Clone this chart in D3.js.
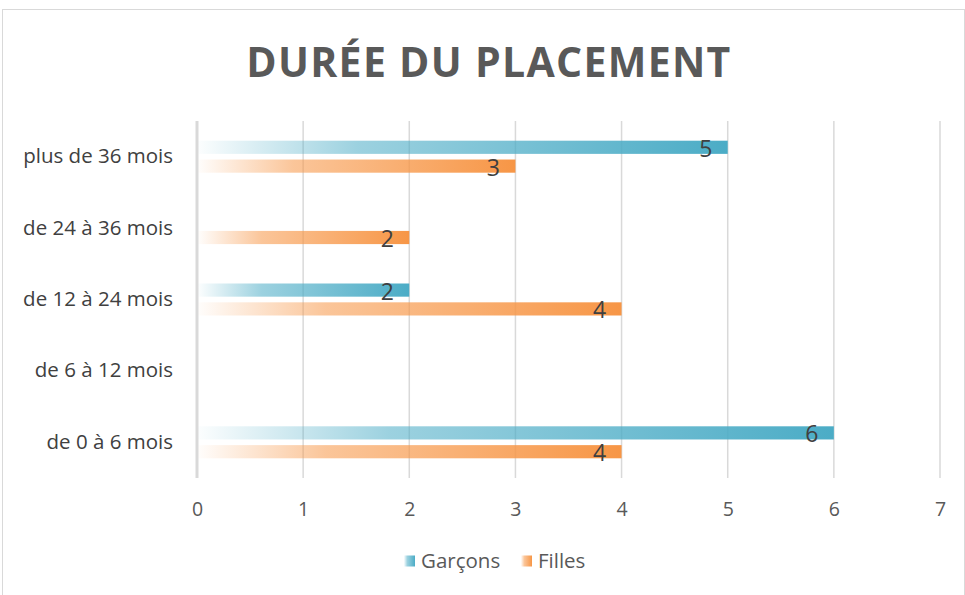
<!DOCTYPE html>
<html>
<head>
<meta charset="utf-8">
<script src="https://cdn.jsdelivr.net/npm/d3@7"></script>
<style>
  body { margin: 0; background: #fff; }
  svg text { font-family: "Open Sans", "Noto Sans", sans-serif; }
</style>
</head>
<body>
<div id="vue"></div>
<script>
// données du graphique
var categories = ["plus de 36 mois", "de 24 à 36 mois", "de 12 à 24 mois", "de 6 à 12 mois", "de 0 à 6 mois"];
var series = ["Garçons", "Filles"];
var garcons = [5, null, 2, null, 6];
var filles = [3, 2, 4, null, 4];
var ticks = [0, 1, 2, 3, 4, 5, 6, 7];
var colors = ["#4bacc6", "#f79646"];

var width = 965, height = 595;

var svg = d3.select("#vue").append("svg")
  .attr("width", width)
  .attr("height", height);

// cadre extérieur
svg.append("rect")
  .attr("x", 2.5).attr("y", 9.5)
  .attr("width", 962).attr("height", 590)
  .attr("fill", "#fff")
  .attr("stroke", "#d9d9d9");

// dégradés (blanc transparent -> couleur pleine)
var defs = svg.append("defs");
colors.forEach(function (c, i) {
  var g = defs.append("linearGradient")
    .attr("id", "grad" + i)
    .attr("x1", 0).attr("x2", 1).attr("y1", 0).attr("y2", 0);
  g.append("stop").attr("offset", 0).attr("stop-color", c).attr("stop-opacity", 0.02);
  g.append("stop").attr("offset", 0.3).attr("stop-color", c).attr("stop-opacity", 0.55);
  g.append("stop").attr("offset", 1).attr("stop-color", c).attr("stop-opacity", 1);
});

var x = d3.scaleLinear().domain([0, 7]).range([197, 940]);
var y = d3.scaleBand().domain(categories).range([121, 478]);
var ySub = d3.scaleBand().domain(series).range([-16, 16]).paddingInner(0.3);

// titre
svg.append("text")
  .attr("x", 489).attr("y", 77)
  .attr("text-anchor", "middle")
  .attr("font-size", 41)
  .attr("font-weight", "bold")
  .attr("letter-spacing", 1.3)
  .attr("fill", "#595959")
  .text("DURÉE DU PLACEMENT");

// grille
svg.append("g").selectAll("line")
  .data(ticks.slice(1))
  .enter().append("line")
  .attr("x1", function (d) { return x(d); })
  .attr("x2", function (d) { return x(d); })
  .attr("y1", 121).attr("y2", 478)
  .attr("stroke", "#d9d9d9")
  .attr("stroke-width", 1.5);

// axe vertical
svg.append("line")
  .attr("x1", x(0)).attr("x2", x(0))
  .attr("y1", 121).attr("y2", 478)
  .attr("stroke", "#d9d9d9")
  .attr("stroke-width", 3);

// axe des x
var xAxis = svg.append("g")
  .attr("transform", "translate(0,478)")
  .call(d3.axisBottom(x).tickValues(ticks).tickFormat(d3.format("d")).tickSize(0).tickPadding(24));
xAxis.select(".domain").remove();
xAxis.selectAll("text")
  .attr("font-size", 19.5)
  .attr("fill", "#595959");

// axe des catégories
var yAxis = svg.append("g")
  .attr("transform", "translate(173,0)")
  .call(d3.axisLeft(y).tickSize(0).tickPadding(0));
yAxis.select(".domain").remove();
yAxis.selectAll("text")
  .attr("font-size", 20.5)
  .attr("fill", "#404040");

// barres
var allData = [garcons, filles];
allData.forEach(function (vals, si) {
  var rows = categories.map(function (c, i) { return { cat: c, v: vals[i] }; })
    .filter(function (d) { return d.v !== null; });

  var g = svg.append("g");
  g.selectAll("rect")
    .data(rows)
    .enter().append("rect")
    .attr("x", x(0) + 1.5)
    .attr("y", function (d) { return y(d.cat) + y.bandwidth() / 2 + ySub(series[si]); })
    .attr("width", function (d) { return x(d.v) - x(0) - 1.5; })
    .attr("height", ySub.bandwidth())
    .attr("fill", "url(#grad" + si + ")");

  g.selectAll("text")
    .data(rows)
    .enter().append("text")
    .attr("x", function (d) { return x(d.v) - 22; })
    .attr("y", function (d) { return y(d.cat) + y.bandwidth() / 2 + ySub(series[si]) + ySub.bandwidth() / 2 + 9.5; })
    .attr("text-anchor", "middle")
    .attr("font-size", 23)
    .attr("fill", "#404040")
    .text(function (d) { return d.v; });
});

// légende
var legendX = [404, 521];
series.forEach(function (s, i) {
  svg.append("rect")
    .attr("x", legendX[i]).attr("y", 555.5)
    .attr("width", 11).attr("height", 11)
    .attr("fill", "url(#grad" + i + ")");
  svg.append("text")
    .attr("x", legendX[i] + 17).attr("y", 568)
    .attr("font-size", 20.5)
    .attr("fill", "#595959")
    .text(s);
});
</script>
</body>
</html>
